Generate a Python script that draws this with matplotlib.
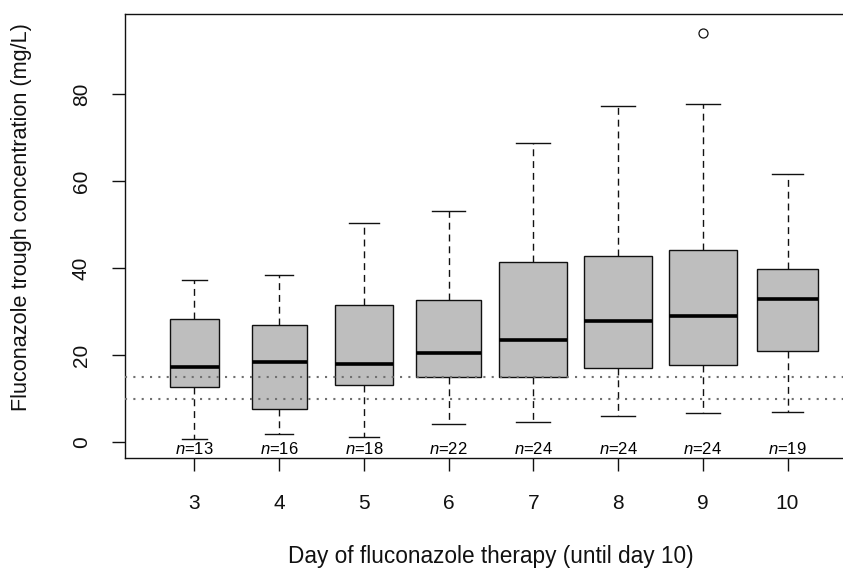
import numpy as np
import matplotlib
matplotlib.use('Agg')
import matplotlib.pyplot as plt

plt.rcParams['font.family'] = ['Liberation Sans', 'DejaVu Sans']
plt.rcParams['mathtext.fontset'] = 'custom'
plt.rcParams['mathtext.it'] = 'Liberation Sans:italic'
plt.rcParams['mathtext.rm'] = 'Liberation Sans'

# data (mg/L)
days = [3, 4, 5, 6, 7, 8, 9, 10]
n_obs = [13, 16, 18, 22, 24, 24, 24, 19]
whislo = [0.8, 1.8, 1.2, 4.2, 4.6, 6.1, 6.8, 7.0]
q1 = [12.8, 7.7, 13.1, 14.9, 15.1, 17.0, 17.7, 21.1]
med = [17.3, 18.4, 18.0, 20.5, 23.5, 28.0, 29.0, 32.9]
q3 = [28.3, 27.0, 31.5, 32.8, 41.4, 42.8, 44.2, 39.9]
whishi = [37.3, 38.4, 50.5, 53.2, 68.7, 77.3, 77.7, 61.7]
outliers = [[], [], [], [], [], [], [94.1], []]
ref_lines = [10, 15]

stats = []
for i in range(len(days)):
    stats.append({'whislo': whislo[i], 'q1': q1[i], 'med': med[i], 'q3': q3[i],
                  'whishi': whishi[i], 'fliers': outliers[i], 'label': str(days[i])})

# varwidth: box width proportional to sqrt(n)
widths = [0.8 * np.sqrt(n / max(n_obs)) for n in n_obs]
capw = [w * 0.5 for w in widths]
pos = np.arange(1, len(days) + 1)

fig = plt.figure(figsize=(8.43, 5.75), dpi=100)
ax = fig.add_axes([125 / 843, (575 - 458.3) / 575, 732 / 843, 444 / 575])

ax.bxp(stats, positions=pos, widths=widths, capwidths=capw, patch_artist=True,
       boxprops=dict(facecolor='#bebebe', edgecolor='#111111', linewidth=1.0),
       medianprops=dict(color='black', linewidth=2.6, solid_capstyle='butt'),
       whiskerprops=dict(color='#111111', linewidth=1.0, linestyle=(0, (5, 3.5))),
       capprops=dict(color='#111111', linewidth=1.0),
       flierprops=dict(marker='o', markerfacecolor='none', markeredgecolor='#111111',
                       markersize=6.5, markeredgewidth=0.9))

for y in ref_lines:
    ax.axhline(y, color='#707070', linewidth=1.5, linestyle=(0, (1, 3)), zorder=5)

for p, n in zip(pos, n_obs):
    ax.text(p, -2.7, r'$n$=' + str(n), ha='center', va='baseline', fontsize=12)

ax.set_xlim(0.18, 8.82)
ax.set_ylim(-3.68, 98.4)
ax.set_xticks(pos)
ax.set_xticklabels([str(d) for d in days])
ax.set_yticks([0, 20, 40, 60, 80])
ax.tick_params(axis='both', direction='out', length=9.5, width=1.0, labelsize=15,
               colors='#111111', labelcolor='#111111')
ax.tick_params(axis='x', pad=16.5)
ax.tick_params(axis='y', pad=15)
for lab in ax.get_yticklabels():
    lab.set_rotation(90)
    lab.set_va('center')
    lab.set_ha('right')
for s in ax.spines.values():
    s.set_linewidth(1.0)
    s.set_color('#111111')

fig.text(491 / 843, 1 - 557 / 575, 'Day of fluconazole therapy (until day 10)',
         ha='center', va='center', fontsize=16.3, color='#111111')
fig.text(22 / 843, 1 - 217 / 575, 'Fluconazole trough concentration (mg/L)',
         ha='center', va='center', rotation=90, fontsize=15.6, color='#111111')

fig.savefig('out.png', dpi=100)
